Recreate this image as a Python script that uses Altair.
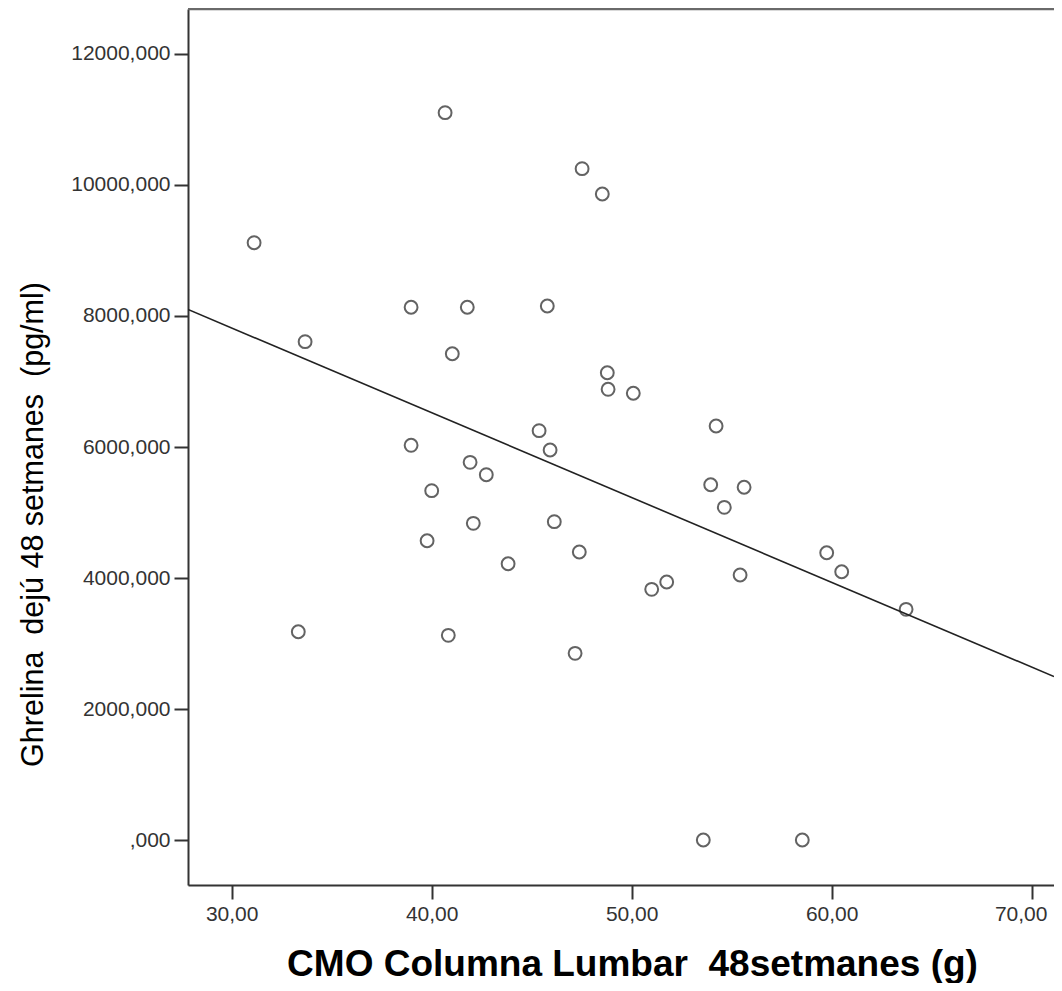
import altair as alt
import pandas as pd

# CMO Columna Lumbar 48 setmanes (g)
cmo = [31.12, 33.67, 33.33, 40.67, 38.97, 41.78, 41.03, 38.97, 41.92, 42.73,
       40.00, 39.77, 42.08, 40.83, 43.82, 47.52, 48.53, 45.78, 48.78, 48.82,
       50.08, 45.37, 45.92, 46.13, 47.38, 47.17, 51.00, 51.75, 54.22, 53.95,
       55.62, 54.63, 55.42, 59.75, 60.50, 63.72, 53.58, 58.53]
# Ghrelina dejú 48 setmanes (pg/ml)
ghrelina = [9119, 7608, 3180, 11104, 8133, 8133, 7424, 6026, 5766, 5577,
            5333, 4569, 4835, 3125, 4218, 10249, 9863, 8153, 7134, 6881,
            6820, 6249, 5954, 4860, 4397, 2850, 3827, 3939, 6321, 5424,
            5385, 5079, 4046, 4386, 4096, 3522, 0, 0]

x_ticks = [30, 40, 50, 60, 70]
y_ticks = [0, 2000, 4000, 6000, 8000, 10000, 12000]
x_domain = [27.815, 71.115]
y_domain = [-687, 12687]

df = pd.DataFrame({"x": cmo, "y": ghrelina})

FONT = "Liberation Sans"
NB = "\u00a0"
PLOT_W = 866

x_enc = alt.X(
    "x:Q",
    scale=alt.Scale(domain=x_domain, nice=False, zero=False),
    axis=alt.Axis(
        values=x_ticks,
        title="CMO Columna Lumbar " + NB + "48setmanes (g)",
        labelExpr="replace(format(datum.value, '.2f'), '.', ',')",
        labelOffset=alt.condition("datum.value >= 70", alt.value(-11), alt.value(0)),
        grid=False,
        domainColor="#333", domainWidth=2,
        tickColor="#333", tickWidth=2, tickSize=14,
        labelFont=FONT, labelFontSize=21, labelColor="#333", labelPadding=4,
        labelFlush=False, labelOverlap=False, labelBound=False,
        titleFont=FONT, titleFontSize=37, titleFontWeight="bold", titleColor="#000",
        titleX=444, titleY=90, titleBaseline="alphabetic", titleAlign="center",
    ),
)
y_enc = alt.Y(
    "y:Q",
    scale=alt.Scale(domain=y_domain, nice=False, zero=False),
    axis=alt.Axis(
        values=y_ticks,
        title="Ghrelina " + NB + "dejú 48 setmanes " + NB + "(pg/ml)",
        labelExpr="datum.value == 0 ? ',000' : replace(format(datum.value, '.3f'), '.', ',')",
        grid=False,
        domainColor="#333", domainWidth=2,
        tickColor="#333", tickWidth=2, tickSize=14,
        labelFont=FONT, labelFontSize=21, labelColor="#333", labelPadding=4,
        labelFlush=False, labelOverlap=False,
        titleFont=FONT, titleFontSize=30.5, titleFontWeight="normal", titleColor="#000",
        titleX=-146, titleY=515, titleBaseline="alphabetic", titleAlign="center",
        titleAngle=270,
    ),
)

base = alt.Chart(df)

points = base.mark_point(
    shape="circle", filled=False, size=165, strokeWidth=2, color="#222"
).encode(x=x_enc, y=y_enc)

fit = base.transform_regression(
    "x", "y", extent=x_domain
).mark_line(color="#222", strokeWidth=1.6, clip=True).encode(
    x=alt.X("x:Q"), y=alt.Y("y:Q")
)

top_border = alt.Chart(pd.DataFrame({"k": [0]})).mark_rule(
    color="#6a6a6a", strokeWidth=2.5
).encode(y=alt.value(0), x=alt.value(0), x2=alt.value(PLOT_W))

chart = (
    alt.layer(points, fit, top_border)
    .properties(
        width=PLOT_W,
        height=876,
        autosize=alt.AutoSizeParams(type="none"),
        padding={"left": 180, "top": 1, "right": 0, "bottom": 98},
    )
    .configure_view(fill="#f0f0f0", stroke="transparent", strokeWidth=0)
    .configure(background="white")
)

chart.save("out.html", embed_options={"renderer": "svg", "actions": False})
